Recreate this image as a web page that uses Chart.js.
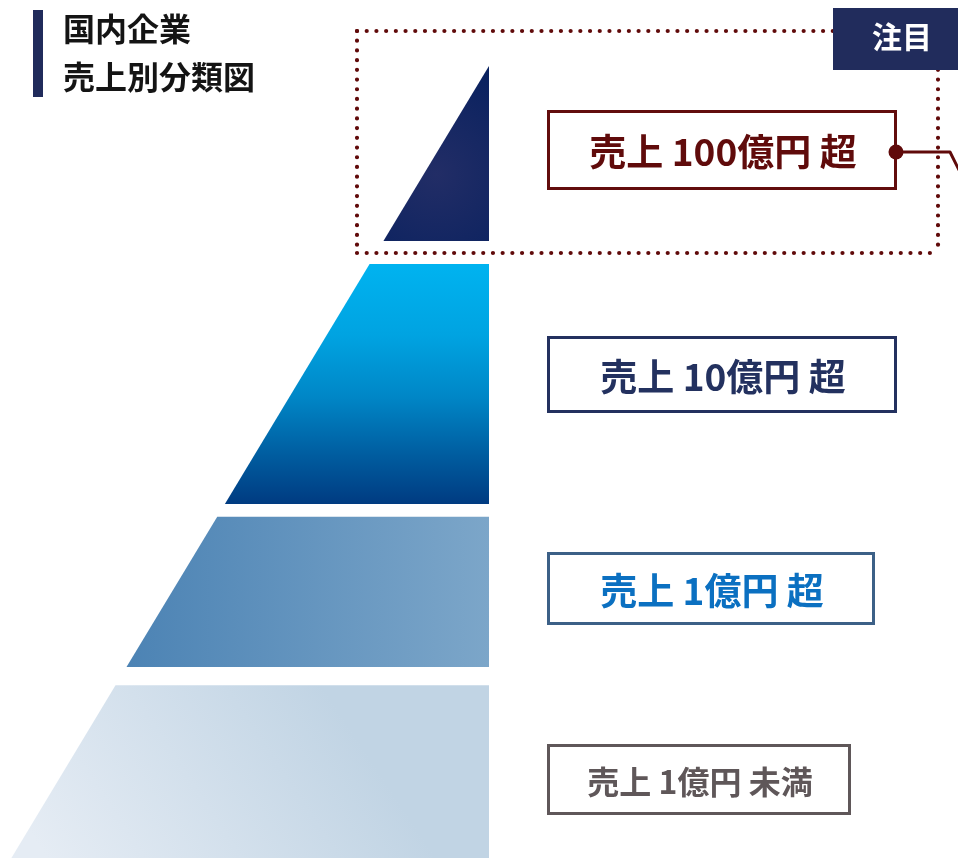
<!DOCTYPE html>
<html lang="ja">
<head>
<meta charset="utf-8">
<script src="https://cdn.jsdelivr.net/npm/chart.js@4.4.1/dist/chart.umd.min.js"></script>
<style>
html,body{margin:0;padding:0;background:#ffffff;overflow:hidden;}
#wrap{position:relative;width:958px;height:858px;}
canvas{display:block;}
</style>
</head>
<body>
<div id="wrap"><canvas id="c" width="958" height="858"></canvas></div>
<script>
// ---------------- data ----------------
const titleLines = ['国内企業', '売上別分類図'];
const tierLabels = ['売上 100億円 超', '売上 10億円 超', '売上 1億円 超', '売上 1億円 未満'];
// band of each tier on the pyramid height axis (0 = base, 100 = apex)
const tierLower = [77.9, 44.7, 24.1, 0];
const tierUpper = [100, 75.0, 43.1, 21.8];
const highlightLabel = '注目';
const highlightTier = 0;

// ---------------- geometry / style (not data) ----------------
const baseHalfWidth = 60.3;        // pyramid half width at height 0 (x units)
const xRange = [-61.74, 59.22];
const yRange = [0, 108.33];
const FONT = "'Noto Sans CJK JP', 'Noto Sans', sans-serif";

function leftEdge(h) { return -baseHalfWidth * (1 - h / 100); }

function tierPolygon(i) {
  const lo = tierLower[i], hi = tierUpper[i];
  return [
    {x: 0, y: hi},
    {x: leftEdge(hi), y: hi},
    {x: leftEdge(lo), y: lo},
    {x: 0, y: lo},
    {x: 0, y: hi}
  ];
}

function tierFill(i) {
  return function (context) {
    const chart = context.chart;
    const area = chart.chartArea;
    if (!area || !chart.scales.x) return 'rgba(0,0,0,0)';
    const c = chart.ctx;
    const xs = chart.scales.x, ys = chart.scales.y;
    const top = ys.getPixelForValue(tierUpper[i]);
    const bot = ys.getPixelForValue(tierLower[i]);
    const right = xs.getPixelForValue(0);
    const left = xs.getPixelForValue(leftEdge(tierLower[i]));
    let g;
    if (i === 0) {
      const cx = left + (right - left) * 0.5, cy = top + (bot - top) * 0.62;
      g = c.createRadialGradient(cx, cy, 0, cx, cy, 120);
      g.addColorStop(0, '#222d66');
      g.addColorStop(1, '#08215f');
    } else if (i === 1) {
      g = c.createLinearGradient(0, top, 0, bot);
      g.addColorStop(0, '#00b3f0');
      g.addColorStop(0.3, '#00a3e1');
      g.addColorStop(0.55, '#0087c7');
      g.addColorStop(0.8, '#005c9f');
      g.addColorStop(1, '#003b81');
    } else if (i === 2) {
      g = c.createLinearGradient(left, 0, right, 0);
      g.addColorStop(0, '#4c83b4');
      g.addColorStop(1, '#7ca6c9');
    } else {
      g = c.createLinearGradient(left + 50, bot + 22, left + 320, top + 15);
      g.addColorStop(0, '#e5ecf4');
      g.addColorStop(1, '#c1d4e4');
    }
    return g;
  };
}

const datasets = tierLabels.map((lab, i) => ({
  label: lab,
  data: tierPolygon(i),
  showLine: true,
  fill: 'shape',
  backgroundColor: tierFill(i),
  borderWidth: 0,
  borderColor: 'rgba(0,0,0,0)',
  pointRadius: 0,
  pointHoverRadius: 0,
  tension: 0
}));

// label box layout (pixels)
const boxes = [
  {x: 547, y: 110, w: 350, h: 80, border: '#620d0d', text: '#600b0b', size: 37},
  {x: 547, y: 336, w: 350, h: 77, border: '#23315f', text: '#23315f', size: 37},
  {x: 547, y: 552, w: 328, h: 73, border: '#3c6087', text: '#0b70c1', size: 37},
  {x: 547, y: 744, w: 304, h: 71, border: '#5f5759', text: '#5f5759', size: 32}
];

const overlay = {
  id: 'overlay',
  afterDraw(chart) {
    const c = chart.ctx;
    c.save();
    // title bar + text
    c.fillStyle = '#202b5b';
    c.fillRect(33, 10, 10, 87);
    c.fillStyle = '#141414';
    c.font = 'bold 32px ' + FONT;
    c.textAlign = 'left';
    c.textBaseline = 'middle';
    c.fillText(titleLines[0], 63, 29);
    c.fillText(titleLines[1], 63, 77);

    // dotted highlight frame
    const maroon = '#600a0a';
    c.strokeStyle = maroon;
    c.lineWidth = 4.2;
    c.lineCap = 'round';
    c.setLineDash([0.01, 9.7]);
    const fx1 = 357, fy1 = 31, fx2 = 938, fy2 = 253;
    c.beginPath(); c.moveTo(fx1, fy1); c.lineTo(fx2, fy1); c.stroke();
    c.beginPath(); c.moveTo(fx1, fy1); c.lineTo(fx1, fy2); c.stroke();
    c.beginPath(); c.moveTo(fx1, fy2); c.lineTo(fx2, fy2); c.stroke();
    c.beginPath(); c.moveTo(fx2, fy1); c.lineTo(fx2, fy2); c.stroke();
    c.setLineDash([]);

    // 注目 tag
    c.fillStyle = '#212c5c';
    c.fillRect(833, 8, 140, 62);
    c.fillStyle = '#ffffff';
    c.font = 'bold 30px ' + FONT;
    c.textAlign = 'center';
    c.fillText(highlightLabel, 902, 37);

    // label boxes
    boxes.forEach((b, i) => {
      c.strokeStyle = b.border;
      c.lineWidth = 3;
      c.lineCap = 'butt';
      c.strokeRect(b.x + 1.5, b.y + 1.5, b.w - 3, b.h - 3);
      c.fillStyle = b.text;
      c.font = 'bold ' + b.size + 'px ' + FONT;
      c.textAlign = 'center';
      c.textBaseline = 'middle';
      c.fillText(tierLabels[i], b.x + b.w / 2 + 1, b.y + b.h / 2 + 2);
    });

    // connector from highlighted label
    const hb = boxes[highlightTier];
    const cy = hb.y + hb.h / 2 + 2;
    const cx = hb.x + hb.w - 1;
    c.strokeStyle = maroon;
    c.lineWidth = 3;
    c.lineJoin = 'round';
    c.beginPath();
    c.moveTo(cx, cy);
    c.lineTo(950, cy);
    c.lineTo(972, cy + 44);
    c.stroke();
    c.fillStyle = maroon;
    c.beginPath();
    c.arc(cx, cy, 7.5, 0, Math.PI * 2);
    c.fill();
    c.restore();
  }
};

new Chart(document.getElementById('c'), {
  type: 'scatter',
  data: {datasets},
  options: {
    responsive: false,
    devicePixelRatio: 1,
    animation: false,
    events: [],
    layout: {padding: 0},
    scales: {
      x: {type: 'linear', min: xRange[0], max: xRange[1], display: false},
      y: {type: 'linear', min: yRange[0], max: yRange[1], display: false}
    },
    plugins: {
      legend: {display: false},
      tooltip: {enabled: false},
      filler: {propagate: false}
    }
  },
  plugins: [overlay]
});
</script>
</body>
</html>
